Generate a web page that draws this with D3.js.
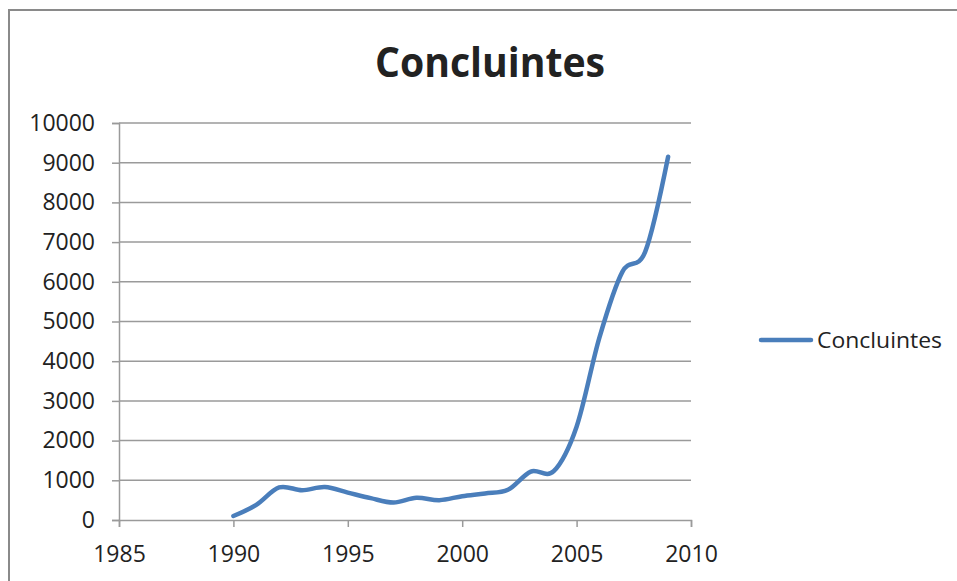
<!DOCTYPE html>
<html>
<head>
<meta charset="utf-8">
<script src="https://cdn.jsdelivr.net/npm/d3@7"></script>
<style>
  html, body { margin: 0; padding: 0; background: #fff; }
  svg { display: block; }
  text { font-family: "Open Sans", "Noto Sans", sans-serif; fill: #222; }
</style>
</head>
<body>
<svg id="chart" width="957" height="581"></svg>
<script>
// Concluintes per year
const years = [1990, 1991, 1992, 1993, 1994, 1995, 1996, 1997, 1998, 1999,
               2000, 2001, 2002, 2003, 2004, 2005, 2006, 2007, 2008, 2009];
const concluintes = [100, 380, 820, 750, 830, 690, 550, 440, 560, 500,
                     600, 670, 760, 1220, 1230, 2350, 4600, 6250, 6760, 9150];
const xTicks = [1985, 1990, 1995, 2000, 2005, 2010];
const yTicks = [0, 1000, 2000, 3000, 4000, 5000, 6000, 7000, 8000, 9000, 10000];
const seriesName = "Concluintes";
const titleText = "Concluintes";

const svg = d3.select("#chart");

// chart frame
svg.append("rect")
  .attr("x", 9).attr("y", 10)
  .attr("width", 970).attr("height", 600)
  .attr("fill", "#fff")
  .attr("stroke", "#8a8a8a")
  .attr("stroke-width", 2);

const plot = { left: 119, right: 691, top: 123, bottom: 520 };

const x = d3.scaleLinear().domain([1985, 2010]).range([plot.left, plot.right]);
const y = d3.scaleLinear().domain([0, 10000]).range([plot.bottom, plot.top]);

// horizontal gridlines
svg.append("g")
  .selectAll("line")
  .data(yTicks.filter(d => d > 0))
  .join("line")
  .attr("x1", plot.left).attr("x2", plot.right)
  .attr("y1", d => y(d)).attr("y2", d => y(d))
  .attr("stroke", "#9a9a9a")
  .attr("stroke-width", 1.5);

// y axis
const yAxis = svg.append("g")
  .attr("transform", `translate(${plot.left},0)`)
  .call(d3.axisLeft(y).tickValues(yTicks).tickSize(7).tickPadding(17).tickFormat(d3.format("d")));
yAxis.select(".domain").attr("stroke", "#9a9a9a").attr("stroke-width", 1.5);
yAxis.selectAll(".tick line").attr("stroke", "#9a9a9a").attr("stroke-width", 1.5);
yAxis.selectAll(".tick text")
  .style("font-size", "23px")
  .attr("fill", "#222");

// x axis
const xAxis = svg.append("g")
  .attr("transform", `translate(0,${plot.bottom})`)
  .call(d3.axisBottom(x).tickValues(xTicks).tickSize(7).tickPadding(19).tickFormat(d3.format("d")));
xAxis.select(".domain").attr("stroke", "#9a9a9a").attr("stroke-width", 1.5);
xAxis.selectAll(".tick line").attr("stroke", "#9a9a9a").attr("stroke-width", 1.5);
xAxis.selectAll(".tick text")
  .style("font-size", "23px")
  .attr("fill", "#222");

// smoothed series line
const line = d3.line()
  .x((d, i) => x(years[i]))
  .y(d => y(d))
  .curve(d3.curveCardinal.tension(0));

svg.append("path")
  .datum(concluintes)
  .attr("d", line)
  .attr("fill", "none")
  .attr("stroke", "#4a7ebb")
  .attr("stroke-width", 4.5)
  .attr("stroke-linecap", "round")
  .attr("stroke-linejoin", "round");

// title
svg.append("text")
  .attr("x", 490).attr("y", 77)
  .attr("text-anchor", "middle")
  .attr("textLength", 230)
  .attr("lengthAdjust", "spacingAndGlyphs")
  .style("font-size", "42px")
  .style("font-weight", "bold")
  .attr("fill", "#000")
  .text(titleText);

// legend
const legend = svg.append("g").attr("transform", "translate(761,340)");
legend.append("line")
  .attr("x1", 0).attr("x2", 50)
  .attr("y1", 0).attr("y2", 0)
  .attr("stroke", "#4a7ebb")
  .attr("stroke-width", 4.5)
  .attr("stroke-linecap", "round");
legend.append("text")
  .attr("x", 56).attr("y", 8)
  .attr("textLength", 125)
  .attr("lengthAdjust", "spacingAndGlyphs")
  .style("font-size", "22px")
  .attr("fill", "#222")
  .text(seriesName);
</script>
</body>
</html>
